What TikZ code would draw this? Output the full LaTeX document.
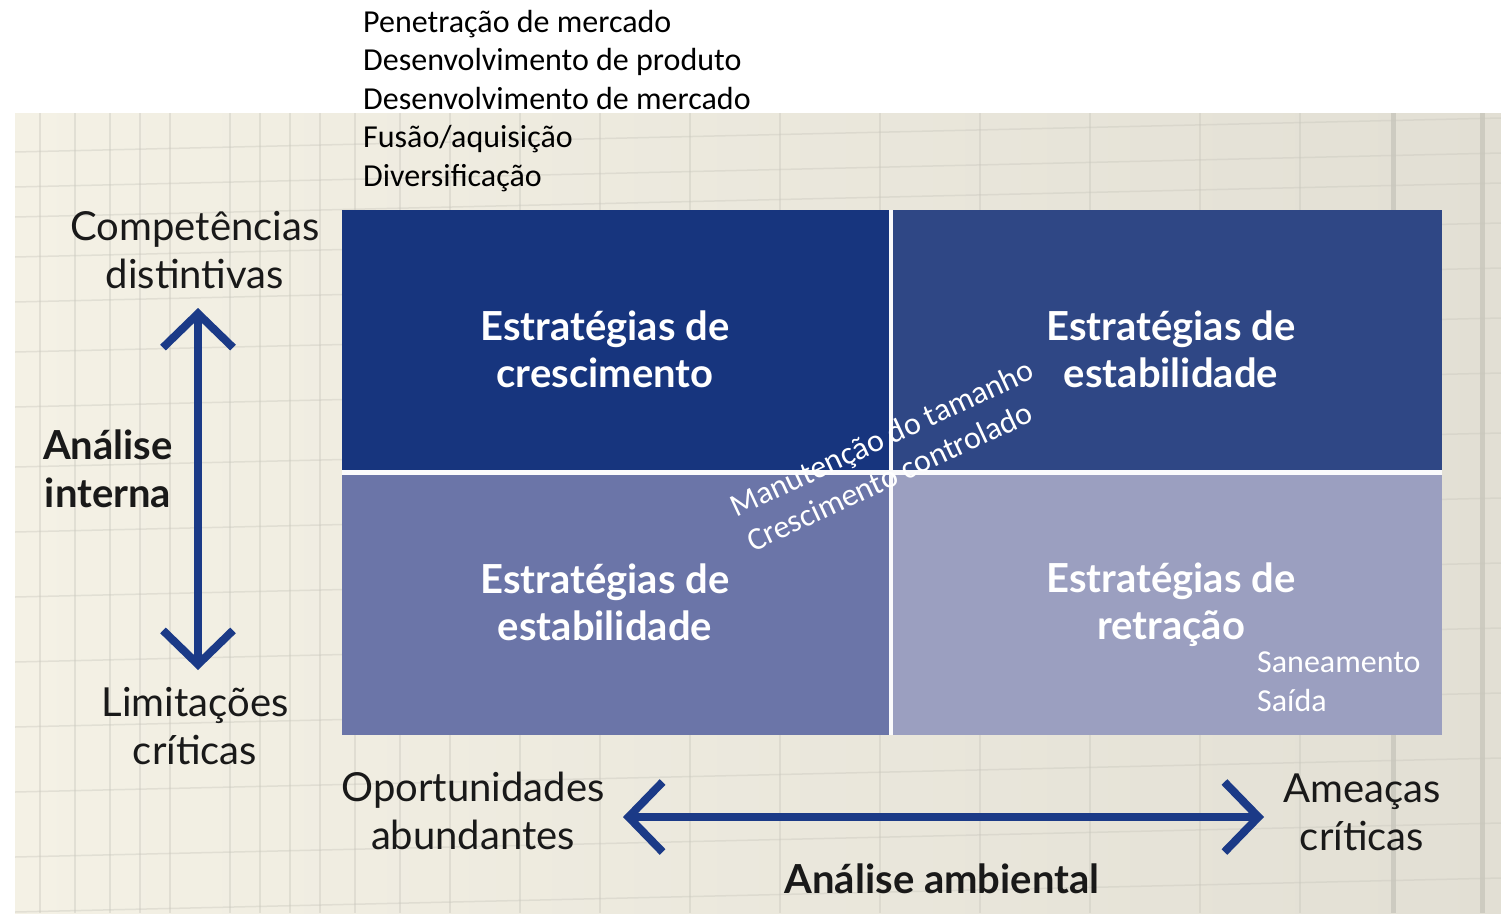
\documentclass[tikz,border=0pt]{standalone}
\usepackage{fontspec}
\setmainfont{Carlito}
\newfontfamily\avenir{Lato}
\usetikzlibrary{arrows.meta}
\definecolor{navy}{RGB}{27,58,135}
\definecolor{boxTL}{RGB}{23,53,126}
\definecolor{boxTR}{RGB}{47,71,133}
\definecolor{boxBL}{RGB}{107,117,168}
\definecolor{boxBR}{RGB}{155,159,192}
\definecolor{bgL}{RGB}{244,241,229}
\definecolor{bgR}{RGB}{226,223,212}
\definecolor{gridc}{RGB}{200,198,188}
\tikzset{
  boxtext/.style={text=white,align=center,font=\avenir\bfseries\fontsize{40}{47}\selectfont},
  axislabel/.style={text=black!90,align=center,font=\avenir\fontsize{40}{48}\selectfont},
  axisbold/.style={text=black!90,align=center,font=\avenir\bfseries\fontsize{40}{48}\selectfont},
  listtext/.style={text=black,align=left,font=\fontsize{32}{38.5}\selectfont,inner sep=0pt},
  smallwhite/.style={text=white,align=left,font=\fontsize{32}{38.5}\selectfont,inner sep=0pt},
  axisarrow/.style={draw=navy,line width=8pt,
    {Straight Barb[length=34pt,width=70pt,line width=8pt]}-{Straight Barb[length=34pt,width=70pt,line width=8pt]}},
}
\begin{document}
\begin{tikzpicture}[x=1pt,y=-1pt]
\useasboundingbox (0,0) rectangle (1501,913);
% textured background
\shade[left color=bgL,right color=bgR] (15,113) rectangle (1501,913);
\begin{scope}
\clip (15,113) rectangle (1501,913);
\foreach \x in {40,75,110,140,170,230,260,290,320,355,400,450,520,600,690,780,880,980,1090,1200,1300}
  \draw[gridc,opacity=0.4,line width=1.2pt] (\x,113) -- (\x,913);
\foreach \x in {1393,1482}
  \draw[gridc,opacity=0.8,line width=5pt] (\x,113) -- (\x,913);
\foreach \y in {140,175,205,245,290,340,395,455,520,585,650,715,780,845,900}
  \draw[gridc,opacity=0.4,line width=1.5pt] (15,\y+12) -- (1501,\y-22);
\end{scope}
% list at top
\node[listtext,anchor=north west] (list) at (363,10) {Penetração de mercado\\Desenvolvimento de produto\\Desenvolvimento de mercado\\Fusão/aquisição\\Diversificação};
% quadrants
\fill[boxTL] (342,210) rectangle (891,472.5);
\fill[boxTR] (891,210) rectangle (1442,472.5);
\fill[boxBL] (342,472.5) rectangle (891,735);
\fill[boxBR] (891,472.5) rectangle (1442,735);
\draw[white!95!boxBR,line width=4.5pt] (891,210) -- (891,735);
\draw[white!95!boxBR,line width=4.5pt] (342,472.5) -- (1442,472.5);
\node[boxtext] (tl) at (605,349) {Estratégias de\\crescimento};
\node[boxtext] (tr) at (1171,349) {Estratégias de\\estabilidade};
\node[boxtext] (bl) at (605,602) {Estratégias de\\estabilidade};
\node[boxtext] (br) at (1171,605) {Estratégias de\\retração};
\node[smallwhite,anchor=north west] (sai) at (1257,652) {Saneamento\\Saída};
\node[smallwhite,rotate=25] (rot) at (890,455) {Manutenção do tamanho\\Crescimento controlado};
% axis labels
\node[axislabel] (comp) at (195,250) {Competências\\distintivas};
\node[axisbold] (ai) at (108,469) {Análise\\interna};
\node[axislabel] (lim) at (195,726) {Limitações\\críticas};
\node[axislabel] (opo) at (473,811) {Oportunidades\\abundantes};
\node[axislabel] (ame) at (1362,812) {Ameaças\\críticas};
\node[axisbold] (amb) at (942,879) {Análise ambiental};
% arrows
\coordinate (vt) at (198,308);
\coordinate (vb) at (198,670);
\coordinate (hl) at (623,817);
\coordinate (hr) at (1264,817);
\draw[axisarrow] (vt) -- (vb);
\draw[axisarrow] (hl) -- (hr);
\end{tikzpicture}
\end{document}
